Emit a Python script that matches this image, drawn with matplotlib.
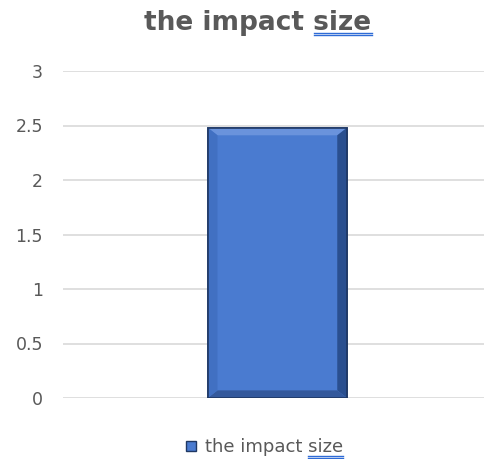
import matplotlib.pyplot as plt
from matplotlib.patches import Polygon, Rectangle
from matplotlib.lines import Line2D

# Data
categories = ["the impact size"]
values = [2.48]
yticks = [0, 0.5, 1, 1.5, 2, 2.5, 3]
ytick_labels = ["0", "0.5", "1", "1.5", "2", "2.5", "3"]

plt.rcParams["font.family"] = ["DejaVu Sans"]
gray = "#595959"
blue = "#4a7bd0"
dark = "#1f3864"
squiggle = "#2e6bd6"

fig = plt.figure(figsize=(4.85, 4.59), dpi=100)
ax = fig.add_axes([63 / 485, 61 / 459, 422 / 485, 327 / 459])

bars = ax.bar([0], values, width=0.33, color=blue, edgecolor=dark, linewidth=1.2, zorder=3)

# bevel look on the bar, built from the bar's own geometry
for b in bars:
    x0, w, h = b.get_x(), b.get_width(), b.get_height()
    x1 = x0 + w
    dx = w * 0.07
    dy = 0.07
    ax.add_patch(Polygon([[x0, h], [x1, h], [x1 - dx, h - dy], [x0 + dx, h - dy]],
                         closed=True, color="#6a93dc", lw=0, zorder=4))
    ax.add_patch(Polygon([[x1, h], [x1, 0], [x1 - dx, dy], [x1 - dx, h - dy]],
                         closed=True, color="#2a4f8f", lw=0, zorder=4))
    ax.add_patch(Polygon([[x0, 0], [x1, 0], [x1 - dx, dy], [x0 + dx, dy]],
                         closed=True, color="#34599c", lw=0, zorder=4))
    ax.add_patch(Polygon([[x0, 0], [x0, h], [x0 + dx, h - dy], [x0 + dx, dy]],
                         closed=True, color="#4170c2", lw=0, zorder=4))
    ax.add_patch(Rectangle((x0, 0), w, h, fill=False, ec=dark, lw=1.2, zorder=5))

ax.set_xlim(-0.508, 0.492)
ax.set_ylim(0, 3)
ax.set_yticks(yticks)
ax.set_yticklabels(ytick_labels)
ax.set_xticks([])
ax.tick_params(axis="y", length=0, pad=14.4, labelsize=12.5, labelcolor=gray)
ax.grid(axis="y", color="#d9d9d9", linewidth=1.2, zorder=0)
for s in ax.spines.values():
    s.set_visible(False)

fig.canvas.draw()
r = fig.canvas.get_renderer()


def underline_last_word(txt, word, ys):
    bb = txt.get_window_extent(r)
    tmp = fig.text(0, 0, word, fontsize=txt.get_fontsize(), fontweight=txt.get_fontweight())
    wb = tmp.get_window_extent(r)
    tmp.remove()
    xs = [(bb.x1 - wb.width) / 485, bb.x1 / 485]
    for y in ys:
        fig.add_artist(Line2D(xs, [1 - y / 459] * 2, color=squiggle, lw=1.0))


title = fig.text(258 / 485, 1 - 30 / 459, "the impact size", ha="center", va="baseline",
                 fontsize=19, fontweight="bold", color=gray)
fig.canvas.draw()
underline_last_word(title, "size", [32.5, 35])

# legend
leg_txt = fig.text(205 / 485, 1 - 452 / 459, categories[0], ha="left", va="baseline",
                   fontsize=13, color=gray)
fig.add_artist(Rectangle((186 / 485, 1 - 451 / 459), 10 / 485, 10 / 459,
                         transform=fig.transFigure, fc=blue, ec=dark, lw=1))
fig.canvas.draw()
underline_last_word(leg_txt, "size", [455.5, 457.5])

fig.savefig("out.png", dpi=100)
